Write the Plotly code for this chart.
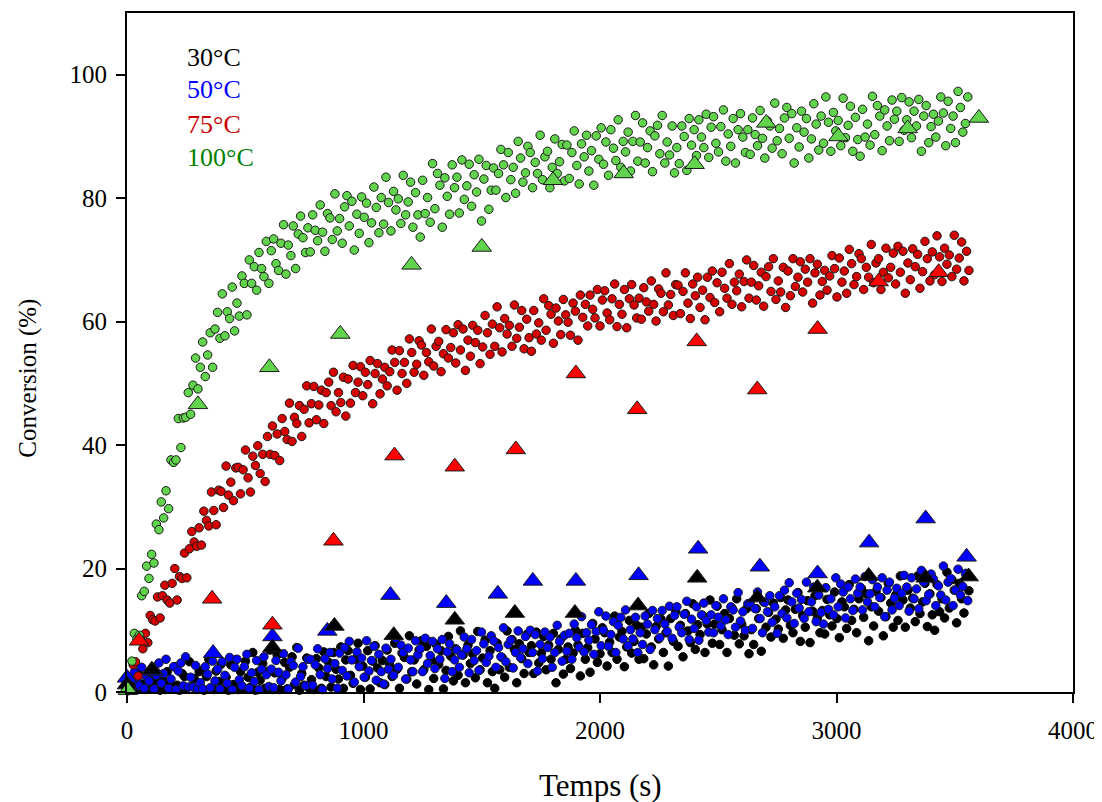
import plotly.graph_objects as go

# ---------------- data ----------------
# time stamps (s) for 100°C and 50°C circles
t_a = [
    0, 10, 21, 31, 42, 52, 62, 73, 83, 93, 104, 114, 124, 135, 145,
    155, 165, 176, 186, 197, 207, 217, 228, 238, 248, 259, 269, 279, 290, 300,
    310, 320, 331, 341, 352, 362, 372, 383, 393, 403, 414, 424, 434, 445, 455,
    465, 475, 486, 496, 507, 517, 527, 538, 548, 558, 569, 579, 589, 600, 610,
    620, 630, 641, 651, 662, 672, 682, 693, 703, 713, 724, 734, 744, 755, 765,
    775, 785, 796, 806, 817, 827, 837, 848, 858, 868, 879, 889, 899, 910, 920,
    930, 940, 951, 961, 972, 982, 992, 1003, 1013, 1023, 1034, 1044, 1054, 1065, 1075,
    1085, 1095, 1106, 1116, 1127, 1137, 1147, 1158, 1168, 1178, 1189, 1199, 1209, 1220, 1230,
    1240, 1250, 1261, 1271, 1282, 1292, 1302, 1313, 1323, 1333, 1344, 1354, 1364, 1375, 1385,
    1395, 1405, 1416, 1426, 1437, 1447, 1457, 1468, 1478, 1488, 1499, 1509, 1519, 1530, 1540,
    1550, 1560, 1571, 1581, 1592, 1602, 1612, 1623, 1633, 1643, 1654, 1664, 1674, 1685, 1695,
    1705, 1715, 1726, 1736, 1747, 1757, 1767, 1778, 1788, 1798, 1809, 1819, 1829, 1840, 1850,
    1860, 1870, 1881, 1891, 1902, 1912, 1922, 1933, 1943, 1953, 1964, 1974, 1984, 1995, 2005,
    2015, 2025, 2036, 2046, 2057, 2067, 2077, 2088, 2098, 2108, 2119, 2129, 2139, 2150, 2160,
    2170, 2180, 2191, 2201, 2212, 2222, 2232, 2243, 2253, 2263, 2274, 2284, 2294, 2305, 2315,
    2325, 2335, 2346, 2356, 2367, 2377, 2387, 2398, 2408, 2418, 2429, 2439, 2449, 2460, 2470,
    2480, 2490, 2501, 2511, 2522, 2532, 2542, 2553, 2563, 2573, 2584, 2594, 2604, 2615, 2625,
    2635, 2645, 2656, 2666, 2677, 2687, 2697, 2708, 2718, 2728, 2739, 2749, 2759, 2770, 2780,
    2790, 2800, 2811, 2821, 2832, 2842, 2852, 2863, 2873, 2883, 2894, 2904, 2914, 2925, 2935,
    2945, 2955, 2966, 2976, 2987, 2997, 3007, 3018, 3028, 3038, 3049, 3059, 3069, 3080, 3090,
    3100, 3110, 3121, 3131, 3142, 3152, 3162, 3173, 3183, 3193, 3204, 3214, 3224, 3235, 3245,
    3255, 3265, 3276, 3286, 3297, 3307, 3317, 3328, 3338, 3348, 3359, 3369, 3379, 3390, 3400,
    3410, 3420, 3431, 3441, 3452, 3462, 3472, 3483, 3493, 3503, 3514, 3524, 3534, 3545, 3555,
]

# time stamps (s) for 75°C and 30°C circles
t_b = [
    5, 15, 26, 36, 47, 57, 67, 78, 88, 98, 109, 119, 129, 140, 150,
    160, 170, 181, 191, 202, 212, 222, 233, 243, 253, 264, 274, 284, 295, 305,
    315, 325, 336, 346, 357, 367, 377, 388, 398, 408, 419, 429, 439, 450, 460,
    470, 480, 491, 501, 512, 522, 532, 543, 553, 563, 574, 584, 594, 605, 615,
    625, 635, 646, 656, 667, 677, 687, 698, 708, 718, 729, 739, 749, 760, 770,
    780, 790, 801, 811, 822, 832, 842, 853, 863, 873, 884, 894, 904, 915, 925,
    935, 945, 956, 966, 977, 987, 997, 1008, 1018, 1028, 1039, 1049, 1059, 1070, 1080,
    1090, 1100, 1111, 1121, 1132, 1142, 1152, 1163, 1173, 1183, 1194, 1204, 1214, 1225, 1235,
    1245, 1255, 1266, 1276, 1287, 1297, 1307, 1318, 1328, 1338, 1349, 1359, 1369, 1380, 1390,
    1400, 1410, 1421, 1431, 1442, 1452, 1462, 1473, 1483, 1493, 1504, 1514, 1524, 1535, 1545,
    1555, 1565, 1576, 1586, 1597, 1607, 1617, 1628, 1638, 1648, 1659, 1669, 1679, 1690, 1700,
    1710, 1720, 1731, 1741, 1752, 1762, 1772, 1783, 1793, 1803, 1814, 1824, 1834, 1845, 1855,
    1865, 1875, 1886, 1896, 1907, 1917, 1927, 1938, 1948, 1958, 1969, 1979, 1989, 2000, 2010,
    2020, 2030, 2041, 2051, 2062, 2072, 2082, 2093, 2103, 2113, 2124, 2134, 2144, 2155, 2165,
    2175, 2185, 2196, 2206, 2217, 2227, 2237, 2248, 2258, 2268, 2279, 2289, 2299, 2310, 2320,
    2330, 2340, 2351, 2361, 2372, 2382, 2392, 2403, 2413, 2423, 2434, 2444, 2454, 2465, 2475,
    2485, 2495, 2506, 2516, 2527, 2537, 2547, 2558, 2568, 2578, 2589, 2599, 2609, 2620, 2630,
    2640, 2650, 2661, 2671, 2682, 2692, 2702, 2713, 2723, 2733, 2744, 2754, 2764, 2775, 2785,
    2795, 2805, 2816, 2826, 2837, 2847, 2857, 2868, 2878, 2888, 2899, 2909, 2919, 2930, 2940,
    2950, 2960, 2971, 2981, 2992, 3002, 3012, 3023, 3033, 3043, 3054, 3064, 3074, 3085, 3095,
    3105, 3115, 3126, 3136, 3147, 3157, 3167, 3178, 3188, 3198, 3209, 3219, 3229, 3240, 3250,
    3260, 3270, 3281, 3291, 3302, 3312, 3322, 3333, 3343, 3353, 3364, 3374, 3384, 3395, 3405,
    3415, 3425, 3436, 3446, 3457, 3467, 3477, 3488, 3498, 3508, 3519, 3529, 3539, 3550, 3560,
]

conv_100 = [
    1.3, 0.4, 5.0, 9.5, 8.6, 9.2, 15.6, 16.3, 20.4, 18.4, 22.3, 20.9, 27.2, 26.3, 30.8,
    28.2, 32.6, 29.7, 37.6, 37.2, 37.6, 44.3, 39.6, 44.4, 44.5, 48.5, 45.0, 49.7, 54.1, 49.1,
    52.6, 56.7, 51.1, 54.6, 58.2, 52.6, 58.8, 61.5, 57.3, 64.5, 57.7, 61.6, 60.5, 65.6, 58.5,
    63.0, 60.9, 67.4, 66.2, 61.1, 70.0, 66.2, 68.9, 65.1, 71.2, 68.6, 67.3, 73.0, 66.2, 71.5,
    73.4, 69.4, 68.3, 72.7, 75.7, 67.7, 72.4, 70.7, 75.5, 68.6, 74.2, 77.1, 73.6, 71.2, 75.2,
    71.3, 77.3, 74.8, 73.1, 78.9, 74.5, 71.4, 77.5, 76.8, 73.3, 80.7, 74.7, 76.7, 72.7, 78.6,
    80.4, 75.5, 79.5, 71.6, 77.4, 74.3, 80.2, 76.9, 79.2, 72.8, 76.0, 81.8, 78.5, 74.4, 80.1,
    75.8, 83.4, 79.3, 74.7, 81.1, 78.1, 79.9, 75.9, 83.7, 77.3, 79.4, 82.6, 75.3, 80.9, 77.3,
    73.7, 82.9, 77.5, 80.1, 76.1, 85.6, 78.3, 84.0, 82.1, 75.3, 83.3, 80.3, 77.4, 85.4, 81.7,
    83.4, 77.6, 86.2, 79.8, 82.0, 85.5, 78.7, 83.8, 81.0, 86.3, 76.3, 83.1, 85.3, 78.2, 81.3,
    84.9, 81.3, 84.0, 87.9, 85.4, 80.1, 87.4, 83.0, 85.0, 80.8, 89.2, 86.5, 82.6, 84.1, 88.4,
    87.4, 81.7, 85.8, 84.0, 90.2, 83.0, 86.7, 87.6, 81.7, 85.0, 89.6, 84.0, 85.9, 88.7, 82.8,
    88.6, 83.2, 87.4, 90.9, 85.3, 82.3, 88.8, 86.7, 90.2, 84.4, 87.7, 82.1, 90.1, 86.3, 91.4,
    85.5, 89.1, 83.7, 91.1, 88.1, 86.1, 92.7, 85.0, 89.2, 87.5, 90.7, 84.4, 89.2, 93.4, 86.0,
    89.1, 92.2, 85.7, 88.2, 90.9, 84.3, 90.1, 91.8, 87.2, 93.4, 85.7, 89.1, 87.0, 91.7, 84.1,
    88.2, 85.6, 91.7, 90.0, 84.5, 92.9, 88.6, 91.1, 86.9, 92.7, 89.9, 88.2, 93.6, 86.6, 91.5,
    93.2, 88.9, 87.5, 91.6, 94.3, 86.0, 90.4, 88.4, 92.9, 85.7, 91.1, 93.7, 89.9, 87.4, 91.1,
    87.1, 93.0, 90.3, 88.5, 94.2, 89.7, 86.5, 92.5, 91.7, 88.1, 95.4, 89.3, 91.3, 87.2, 93.0,
    94.7, 89.7, 93.7, 85.7, 91.4, 88.3, 94.1, 90.7, 92.9, 86.5, 89.6, 95.3, 92.0, 87.8, 93.3,
    88.9, 96.4, 92.3, 87.6, 93.9, 90.9, 92.6, 88.5, 96.2, 89.8, 91.8, 94.9, 87.6, 93.1, 89.5,
    86.8, 94.4, 89.9, 92.0, 88.6, 96.5, 90.3, 95.0, 93.3, 87.7, 94.3, 91.7, 89.3, 95.9, 92.8,
    94.1, 89.2, 96.3, 91.0, 92.7, 95.6, 89.8, 94.1, 91.7, 96.0, 87.6, 93.3, 95.0, 89.0, 91.6,
    93.6, 89.9, 92.5, 96.4, 93.8, 88.5, 95.7, 91.3, 93.3, 89.0, 97.3, 94.7, 90.7, 92.1, 96.4,
]

conv_75 = [
    0.2, 0.3, 4.4, 4.9, 2.6, 8.6, 7.0, 9.5, 8.0, 12.4, 11.7, 11.5, 15.4, 12.0, 15.6,
    17.3, 14.9, 14.4, 17.6, 20.0, 14.9, 18.7, 18.4, 22.5, 18.5, 23.2, 26.0, 24.3, 23.6, 26.6,
    23.8, 29.3, 27.8, 26.9, 32.4, 29.4, 27.1, 32.7, 32.5, 29.9, 36.6, 31.9, 34.0, 31.0, 36.3,
    36.4, 32.1, 36.0, 39.2, 34.7, 32.4, 38.2, 36.7, 39.9, 35.4, 38.5, 34.1, 41.4, 38.5, 43.1,
    38.3, 41.8, 37.5, 44.3, 42.2, 40.9, 46.8, 40.6, 44.5, 43.5, 46.4, 41.4, 45.8, 49.6, 43.6,
    46.7, 49.5, 44.1, 46.5, 48.9, 43.5, 48.5, 50.2, 46.4, 51.8, 45.4, 48.5, 46.9, 51.0, 44.7,
    50.7, 46.8, 52.9, 48.5, 50.2, 52.7, 48.0, 51.8, 49.8, 53.7, 46.7, 51.6, 53.2, 48.3, 50.7,
    52.6, 49.6, 51.9, 55.4, 53.4, 48.9, 55.3, 51.6, 53.4, 50.0, 57.2, 55.0, 51.8, 53.1, 56.9,
    56.2, 51.3, 55.0, 53.5, 58.8, 52.8, 56.0, 56.8, 51.9, 54.8, 58.7, 54.1, 55.8, 58.2, 53.3,
    59.5, 55.4, 58.8, 52.1, 57.0, 54.4, 59.4, 56.6, 58.6, 53.2, 55.9, 61.0, 58.2, 54.7, 59.6,
    56.0, 62.4, 59.0, 55.1, 60.5, 58.0, 59.4, 56.0, 62.7, 57.3, 59.1, 61.8, 55.6, 60.4, 57.4,
    55.2, 61.8, 58.0, 59.8, 57.0, 63.7, 58.6, 62.6, 61.2, 56.5, 62.2, 60.1, 57.9, 63.6, 61.1,
    59.9, 57.8, 63.0, 61.7, 57.0, 64.3, 60.7, 62.8, 59.3, 64.3, 62.0, 60.6, 65.2, 59.3, 63.5,
    65.0, 61.4, 60.3, 63.7, 66.1, 59.2, 62.8, 61.2, 65.2, 59.0, 63.7, 66.0, 62.7, 60.6, 63.8,
    60.4, 65.5, 63.2, 61.7, 66.6, 62.8, 60.1, 65.3, 64.6, 61.6, 67.9, 62.7, 64.4, 61.0, 66.0,
    65.9, 61.3, 64.9, 67.9, 63.0, 60.5, 66.1, 64.2, 67.2, 62.3, 65.1, 60.3, 67.2, 63.9, 68.2,
    63.1, 66.3, 61.6, 68.0, 65.4, 63.8, 69.4, 62.8, 66.4, 65.0, 67.7, 62.4, 66.5, 70.0, 63.8,
    66.4, 69.1, 63.5, 65.8, 68.0, 62.5, 67.3, 68.9, 64.9, 70.2, 63.6, 66.6, 64.8, 68.8, 62.3,
    68.2, 64.2, 70.2, 65.7, 67.2, 69.7, 64.8, 68.5, 66.4, 70.2, 63.0, 67.9, 69.3, 64.3, 66.5,
    68.3, 65.1, 67.4, 70.7, 68.6, 64.0, 70.3, 66.4, 68.2, 64.6, 71.7, 69.4, 66.0, 67.3, 71.0,
    70.2, 65.2, 68.8, 67.2, 72.5, 66.3, 69.5, 70.2, 65.2, 68.0, 71.9, 67.1, 68.8, 71.1, 66.1,
    72.2, 68.0, 71.4, 64.6, 69.5, 66.8, 71.8, 68.9, 70.9, 65.4, 68.1, 73.0, 70.2, 66.6, 71.3,
    67.6, 73.9, 70.5, 66.5, 71.9, 69.3, 70.8, 67.3, 74.0, 68.5, 70.3, 72.9, 66.6, 71.4, 68.3,
]

conv_50 = [
    0.5, 2.3, 0.4, 3.2, 1.9, 1.0, 4.0, 0.6, 2.5, 1.8, 3.3, 0.5, 2.7, 4.7, 1.4,
    3.0, 5.3, 0.6, 2.1, 4.1, 0.4, 3.4, 4.7, 1.0, 5.7, 0.8, 2.4, 0.8, 4.3, 0.5,
    1.5, 0.5, 4.1, 2.9, 0.7, 5.0, 1.8, 3.7, 0.5, 4.9, 2.7, 1.4, 5.6, 0.4, 4.0,
    5.3, 2.0, 1.0, 4.1, 6.1, 0.6, 3.1, 1.7, 5.1, 0.4, 3.7, 5.7, 2.8, 0.9, 3.7,
    0.7, 5.1, 3.2, 1.8, 6.2, 2.8, 0.5, 4.9, 4.3, 1.6, 7.1, 2.5, 4.1, 1.0, 5.3,
    5.3, 1.1, 4.4, 7.0, 2.8, 0.4, 5.4, 3.8, 6.4, 2.1, 4.6, 0.6, 6.3, 3.5, 7.2,
    2.6, 8.2, 5.2, 1.6, 6.5, 4.1, 5.5, 2.4, 8.3, 3.4, 5.1, 7.4, 1.9, 6.1, 3.3,
    1.3, 7.1, 3.7, 5.3, 2.7, 8.7, 4.0, 7.6, 6.4, 2.1, 7.1, 5.2, 3.3, 8.3, 6.0,
    7.0, 3.3, 8.7, 4.6, 5.9, 8.2, 3.8, 7.0, 5.3, 8.5, 2.2, 6.5, 7.8, 3.3, 5.2,
    6.8, 4.0, 6.0, 8.9, 7.0, 3.1, 8.5, 5.1, 6.7, 3.5, 9.7, 7.8, 4.8, 5.8, 9.1,
    8.3, 4.0, 7.2, 5.7, 10.4, 4.9, 7.7, 8.4, 3.9, 6.4, 9.9, 5.6, 7.0, 9.0, 4.6,
    10.0, 6.4, 9.3, 3.4, 7.7, 5.4, 9.7, 7.2, 8.9, 4.0, 6.4, 10.8, 8.2, 5.0, 9.2,
    6.6, 9.5, 5.3, 11.0, 8.8, 7.2, 12.2, 6.5, 9.6, 8.4, 10.9, 6.1, 9.8, 13.0, 7.5,
    10.0, 12.3, 7.4, 9.3, 11.4, 6.4, 10.8, 12.1, 8.6, 13.3, 7.5, 10.1, 8.6, 12.1, 6.4,
    9.6, 7.7, 12.3, 11.0, 6.9, 13.2, 10.1, 11.9, 8.8, 13.2, 11.0, 9.8, 13.9, 8.7, 12.4,
    13.8, 10.5, 9.6, 12.6, 14.7, 8.5, 11.8, 10.3, 13.8, 8.4, 12.5, 14.4, 11.6, 9.7, 12.5,
    9.6, 14.0, 12.1, 10.7, 15.1, 11.7, 9.3, 13.8, 13.3, 10.5, 16.1, 11.5, 13.0, 10.0, 14.3,
    14.4, 10.3, 13.5, 16.2, 11.9, 9.6, 14.5, 13.0, 15.6, 11.3, 13.8, 9.5, 15.6, 12.7, 16.5,
    12.0, 17.7, 14.6, 11.1, 16.0, 13.6, 15.0, 11.9, 17.8, 13.0, 14.6, 17.0, 11.4, 15.7, 12.9,
    11.0, 16.9, 13.4, 15.1, 12.5, 18.5, 13.8, 17.5, 16.2, 12.0, 17.0, 15.1, 13.2, 18.3, 16.0,
    17.0, 13.3, 18.7, 14.6, 15.9, 18.2, 13.8, 17.0, 15.3, 18.5, 12.2, 16.5, 17.8, 13.3, 15.2,
    16.8, 14.0, 16.0, 18.9, 17.0, 13.1, 18.5, 15.1, 16.7, 13.5, 19.7, 17.8, 14.8, 15.8, 19.1,
    18.3, 14.0, 17.2, 15.7, 20.4, 14.9, 17.8, 18.4, 14.0, 16.5, 19.9, 15.7, 17.1, 19.2, 14.8,
]

conv_30 = [
    2.4, 0.4, 0.3, 1.8, 3.1, 0.5, 1.3, 0.4, 2.6, 0.6, 1.8, 3.1, 1.3, 0.3, 2.0,
    0.4, 3.3, 1.5, 0.5, 4.1, 1.1, 0.3, 3.0, 2.5, 0.6, 4.9, 0.9, 2.2, 0.4, 3.3,
    3.5, 0.3, 2.5, 5.3, 0.7, 0.4, 3.4, 1.7, 4.5, 0.5, 2.4, 0.3, 4.4, 1.2, 5.2,
    0.4, 3.3, 0.5, 5.0, 2.4, 0.8, 6.4, 0.3, 3.2, 1.9, 4.6, 0.6, 3.3, 6.8, 0.4,
    3.1, 6.0, 0.4, 2.2, 4.8, 0.5, 4.0, 5.7, 1.2, 7.2, 0.3, 3.0, 1.1, 5.5, 0.6,
    2.0, 0.4, 5.4, 3.9, 0.6, 6.5, 2.5, 4.8, 0.8, 6.4, 3.7, 2.1, 7.3, 0.6, 5.2,
    6.7, 2.7, 1.4, 5.3, 7.9, 0.4, 4.2, 2.4, 6.7, 0.5, 5.0, 7.5, 3.9, 1.5, 5.1,
    1.2, 6.8, 4.3, 2.5, 7.9, 3.7, 0.6, 6.3, 5.6, 2.1, 9.1, 3.3, 5.2, 1.3, 6.8,
    8.3, 3.6, 7.4, 0.4, 5.2, 2.2, 7.7, 4.5, 6.7, 0.5, 3.5, 9.0, 5.8, 1.8, 7.0,
    2.7, 9.9, 6.0, 1.5, 7.6, 4.6, 6.2, 2.3, 9.8, 3.6, 5.5, 8.4, 1.5, 6.7, 3.3,
    0.6, 7.9, 3.6, 5.6, 2.4, 9.9, 4.0, 8.5, 6.9, 1.5, 7.8, 5.4, 3.0, 9.3, 6.4,
    7.5, 3.0, 9.7, 4.7, 6.3, 9.0, 3.6, 7.6, 5.3, 9.5, 1.5, 6.9, 8.6, 2.9, 5.3,
    7.3, 3.8, 6.3, 10.0, 7.6, 2.6, 9.5, 5.3, 7.2, 3.2, 11.1, 8.6, 4.8, 6.2, 10.4,
    9.6, 4.2, 8.1, 6.4, 12.3, 5.3, 8.9, 9.8, 4.1, 7.3, 11.6, 6.3, 8.2, 10.8, 5.3,
    10.5, 5.4, 9.4, 12.7, 7.3, 4.4, 10.6, 8.6, 11.8, 6.4, 9.6, 4.2, 11.9, 8.2, 13.0,
    7.4, 10.8, 5.7, 12.7, 9.9, 8.0, 14.3, 6.9, 10.9, 9.3, 12.4, 6.4, 11.0, 14.9, 7.9,
    11.0, 13.9, 7.7, 10.1, 12.7, 6.4, 11.9, 13.6, 9.2, 15.1, 7.8, 11.0, 9.1, 13.5, 6.2,
    10.1, 7.7, 13.5, 11.9, 6.6, 14.6, 10.5, 12.9, 8.9, 14.4, 11.8, 10.2, 15.3, 8.7, 13.3,
    14.9, 10.8, 9.6, 13.4, 16.1, 8.2, 12.4, 10.5, 14.8, 8.0, 13.1, 15.6, 12.0, 9.6, 13.2,
    9.4, 15.0, 12.5, 10.7, 16.2, 11.9, 8.8, 14.6, 13.8, 10.3, 17.4, 11.6, 13.4, 9.6, 15.1,
    16.8, 12.1, 15.9, 8.3, 13.8, 10.7, 16.3, 13.1, 15.3, 9.1, 12.2, 17.6, 14.4, 10.5, 15.7,
    11.6, 18.8, 14.9, 10.5, 16.5, 13.6, 15.2, 11.4, 18.8, 12.7, 14.6, 17.6, 10.6, 15.9, 12.5,
    10.0, 17.4, 13.0, 15.1, 12.0, 19.4, 13.6, 18.2, 16.5, 11.2, 17.6, 15.1, 12.8, 19.2, 16.4,
]

# triangle series
tri_30_t = [0, 105, 615, 877, 1128, 1386, 1640, 1894, 2161, 2411, 2665, 2919, 3136, 3377, 3559]
tri_30_y = [1.2, 3.6, 7.2, 10.7, 9.2, 11.7, 12.8, 12.8, 14.0, 18.5, 15.3, 16.9, 18.8, 18.5, 18.7]

tri_50_t = [0, 114, 364, 615, 847, 1114, 1350, 1568, 1716, 1898, 2163, 2415, 2676, 2920, 3138, 3377, 3550]
tri_50_y = [2.3, 3.4, 6.3, 9.0, 9.9, 15.7, 14.4, 15.9, 18.0, 18.0, 18.9, 23.2, 20.3, 19.2, 24.2, 28.1, 21.9]

tri_75_t = [51, 360, 615, 873, 1131, 1386, 1644, 1898, 2157, 2409, 2665, 2920, 3178, 3432]
tri_75_y = [8.3, 15.1, 10.9, 24.5, 38.3, 36.5, 39.3, 51.6, 45.8, 56.8, 49.0, 58.8, 66.5, 68.0]

tri_100_t = [4, 300, 602, 902, 1203, 1500, 1801, 2100, 2400, 2703, 3008, 3301, 3602]
tri_100_y = [0.3, 46.6, 52.6, 58.0, 69.2, 72.1, 82.9, 84.0, 85.5, 92.2, 90.0, 91.3, 93.0]

legend_labels = ["30°C", "50°C", "75°C", "100°C"]
x_ticks = [0, 1000, 2000, 3000, 4000]
y_ticks = [0, 20, 40, 60, 80, 100]

# ---------------- styling ----------------
FONT = "Liberation Serif, Times New Roman, serif"
C_GREEN = "#62d34c"
C_RED_DOT = "#d40000"
C_BLUE = "#0000ff"
C_BLACK = "#000000"
OUT = "#1a1a1a"

fig = go.Figure()

def circles(x, y, fill, line_col):
    fig.add_trace(go.Scatter(
        x=x, y=y, mode="markers", cliponaxis=False, hoverinfo="skip",
        marker=dict(symbol="circle", size=8.5, color=fill,
                    line=dict(color=line_col, width=1)),
    ))

def triangles(x, y, fill):
    fig.add_trace(go.Scatter(
        x=x, y=y, mode="markers", cliponaxis=False, hoverinfo="skip",
        marker=dict(symbol="triangle-up", size=17, color=fill,
                    line=dict(color=OUT, width=1)),
    ))

circles(t_b, conv_30, C_BLACK, C_BLACK)
circles(t_a, conv_50, C_BLUE, OUT)
circles(t_b, conv_75, C_RED_DOT, OUT)
circles(t_a, conv_100, C_GREEN, OUT)

triangles(tri_50_t, tri_50_y, "#0000ff")
triangles(tri_30_t, tri_30_y, "#000000")
triangles(tri_75_t, tri_75_y, "#ff0000")
triangles(tri_100_t, tri_100_y, C_GREEN)

axis_common = dict(
    showgrid=False, zeroline=False, showline=True, linecolor="black", linewidth=2,
    mirror=True, ticks="outside", ticklen=9, tickwidth=2, tickcolor="black",
    automargin=False,
    tickfont=dict(family=FONT, size=25, color="black"),
)

fig.update_xaxes(range=[0, 4000], tickvals=x_ticks, ticktext=[str(v) for v in x_ticks],
                 ticklabelstandoff=6, **axis_common)
fig.update_yaxes(range=[0, 110], tickvals=y_ticks, ticktext=[str(v) for v in y_ticks],
                 ticklabelstandoff=4, **axis_common)

legend_colors = ["#000000", "#0000ff", "#cc0000", "#008000"]
legend_y = [0.935, 0.8866, 0.8365, 0.7865]
for lab, col, yy in zip(legend_labels, legend_colors, legend_y):
    fig.add_annotation(text=lab, x=0.061, y=yy, xref="paper", yref="paper",
                       xanchor="left", yanchor="middle", showarrow=False,
                       font=dict(family=FONT, size=26, color=col))

fig.add_annotation(text="Temps (s)", x=0.5, y=-0.137, xref="paper", yref="paper",
                   xanchor="center", yanchor="middle", showarrow=False,
                   font=dict(family=FONT, size=31, color="black"))
fig.add_annotation(text="Conversion (%)", x=-0.105, y=0.4625, xref="paper", yref="paper",
                   xanchor="center", yanchor="middle", showarrow=False, textangle=-90,
                   font=dict(family=FONT, size=25, color="black"))

# The page body has an 8px margin, so the figure is shrunk and shifted by that amount
fig.update_layout(
    width=1094, height=794, showlegend=False,
    margin=dict(l=119, r=29, t=5, b=110, autoexpand=False),
    paper_bgcolor="white", plot_bgcolor="white",
    font=dict(family=FONT, color="black"),
)

fig.write_html("out.html", config={"displayModeBar": False})
